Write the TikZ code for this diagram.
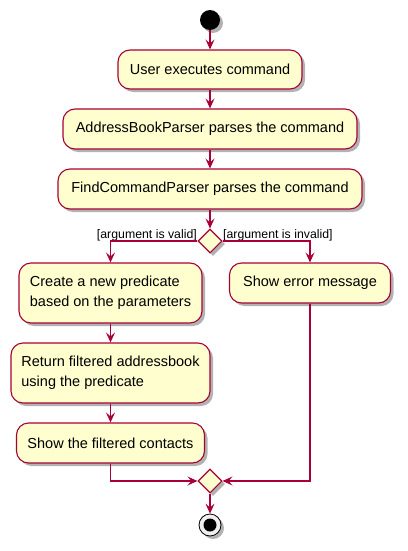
\documentclass[tikz,border=0pt]{standalone}
\usepackage{fontspec}
\setmainfont{Liberation Sans}
\usetikzlibrary{shapes.geometric,arrows.meta,shadows}
\definecolor{boxfill}{HTML}{FEFECE}
\definecolor{boxline}{HTML}{A80036}
\tikzset{
  shade/.style={drop shadow={shadow xshift=3pt,shadow yshift=-3pt,opacity=0.3,fill=black}},
  actbox/.style={draw=boxline,fill=boxfill,line width=1.1pt,rounded corners=12pt,
    inner xsep=10pt,inner ysep=0pt,align=left,shade,
    font=\fontsize{14.5}{20}\selectfont},
  decis/.style={diamond,draw=boxline,fill=boxfill,line width=1.1pt,inner sep=0pt,
    minimum width=24pt,minimum height=24pt,shade},
  flow/.style={draw=boxline,line width=1.1pt,-{Stealth[length=10pt,width=9pt,inset=4pt]}},
  guard/.style={font=\fontsize{12.3}{14}\selectfont,inner sep=0pt},
}
\begin{document}
\begin{tikzpicture}[x=1pt,y=-1pt]
\useasboundingbox (0,0) rectangle (407,551);
\node[circle,fill=black,minimum size=20pt,inner sep=0pt,shade] (start) at (210,20) {};
\node[actbox,minimum width=184pt,minimum height=39pt] (b1) at (210,69.5) {User executes command};
\node[actbox,minimum width=294pt,minimum height=40pt] (b2) at (210,129) {AddressBookParser parses the command};
\node[actbox,minimum width=304pt,minimum height=40pt] (b3) at (210,189) {FindCommandParser parses the command};
\node[decis] (d1) at (210,241) {};
\node[guard,anchor=base east] (lv) at (197,238) {[argument is valid]};
\node[guard,anchor=base west] (li) at (223,238) {[argument is invalid]};
\node[actbox,minimum width=183pt,minimum height=60pt] (b4) at (110.5,293) {Create a new predicate\\based on the parameters};
\node[actbox,minimum width=161pt,minimum height=40pt] (b5) at (310,283) {Show error message};
\node[actbox,minimum width=199pt,minimum height=60pt] (b6) at (110.5,373) {Return filtered addressbook\\using the predicate};
\node[actbox,minimum width=188pt,minimum height=40pt] (b7) at (110.5,443) {Show the filtered contacts};
\node[decis] (d2) at (210,481) {};
\node[circle,draw=black,fill=gray!12,line width=0.8pt,minimum size=22pt,inner sep=0pt,shade] (stop) at (210,525) {};
\node[circle,fill=black,minimum size=13pt,inner sep=0pt] (stopin) at (210,525) {};
\draw[flow] (start) -- (b1);
\draw[flow] (b1) -- (b2);
\draw[flow] (b2) -- (b3);
\draw[flow] (b3) -- (d1);
\draw[flow] (d1.west) -| (b4.north);
\draw[flow] (d1.east) -| (b5.north);
\draw[flow] (b4) -- (b6);
\draw[flow] (b6) -- (b7);
\draw[flow] (b7.south) |- (d2.west);
\draw[flow] (b5.south) |- (d2.east);
\draw[flow] (d2) -- (stop);
\end{tikzpicture}
\end{document}
